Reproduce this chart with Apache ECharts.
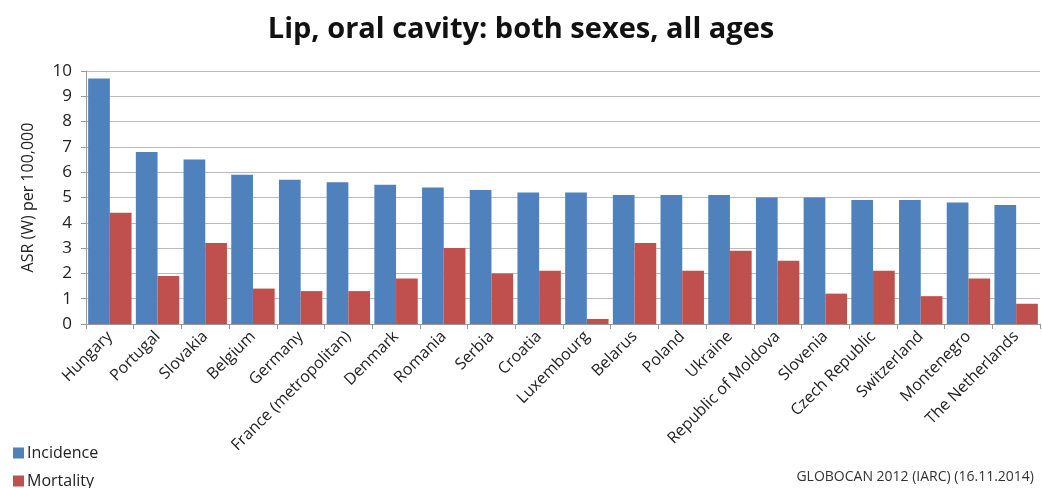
<!DOCTYPE html>
<html>
<head>
<meta charset="utf-8">
<script src="https://cdn.jsdelivr.net/npm/echarts@6/dist/echarts.min.js"></script>
<style>html,body{margin:0;padding:0;background:#fff;}#c{width:1042px;height:488px;}</style>
</head>
<body>
<div id="c"></div>
<script>
var countries = ["Hungary","Portugal","Slovakia","Belgium","Germany","France (metropolitan)","Denmark","Romania","Serbia","Croatia","Luxembourg","Belarus","Poland","Ukraine","Republic of Moldova","Slovenia","Czech Republic","Switzerland","Montenegro","The Netherlands"];
var incidence = [9.7,6.8,6.5,5.9,5.7,5.6,5.5,5.4,5.3,5.2,5.2,5.1,5.1,5.1,5.0,5.0,4.9,4.9,4.8,4.7];
var mortality = [4.4,1.9,3.2,1.4,1.3,1.3,1.8,3.0,2.0,2.1,0.2,3.2,2.1,2.9,2.5,1.2,2.1,1.1,1.8,0.8];
var yTicks = [0,1,2,3,4,5,6,7,8,9,10];

var font = "'Open Sans', 'Liberation Sans', sans-serif";
var legendText = {fontFamily: font, fontSize: 16, color: '#222', padding: [0,0,0,-2]};
var chart = echarts.init(document.getElementById('c'));
chart.setOption({
  animation: false,
  textStyle: {fontFamily: font},
  title: {
    text: 'Lip, oral cavity: both sexes, all ages',
    left: 'center', top: 10,
    textStyle: {fontFamily: font, fontSize: 29, fontWeight: 'bold', color: '#111'}
  },
  graphic: [{
    type: 'text', right: 8, top: 470,
    style: {text: 'GLOBOCAN 2012 (IARC) (16.11.2014)', fontFamily: font, fontSize: 14, fill: '#333'}
  }],
  legend: [
    {left: 8, top: 440, itemWidth: 11, itemHeight: 11, icon: 'rect', textStyle: legendText, data: ['Incidence']},
    {left: 8, top: 468, itemWidth: 11, itemHeight: 11, icon: 'rect', textStyle: legendText, data: ['Mortality']}
  ],
  grid: {left: 86, right: 2, top: 71, bottom: 164, containLabel: false},
  xAxis: {
    type: 'category', data: countries,
    axisLine: {lineStyle: {color: '#999'}},
    axisTick: {show: true, length: 5, lineStyle: {color: '#999'}},
    axisLabel: {rotate: 45, interval: 0, fontSize: 16, color: '#222', margin: 10, fontFamily: font}
  },
  yAxis: {
    type: 'value', min: yTicks[0], max: yTicks[yTicks.length-1], interval: 1,
    name: 'ASR (W) per 100,000', nameLocation: 'middle', nameGap: 50, nameRotate: 90,
    nameTextStyle: {fontSize: 16, color: '#222', fontFamily: font},
    axisLine: {show: true, lineStyle: {color: '#999'}},
    axisTick: {show: true, length: 5, lineStyle: {color: '#999'}},
    axisLabel: {fontSize: 17, color: '#222', margin: 14, fontFamily: font},
    splitLine: {lineStyle: {color: '#bbb', width: 1}}
  },
  series: [
    {name: 'Incidence', type: 'bar', data: incidence, barGap: '0%', barCategoryGap: '9%',
     itemStyle: {color: '#4F81BD'}},
    {name: 'Mortality', type: 'bar', data: mortality,
     itemStyle: {color: '#C0504D'}}
  ]
});
</script>
</body>
</html>
